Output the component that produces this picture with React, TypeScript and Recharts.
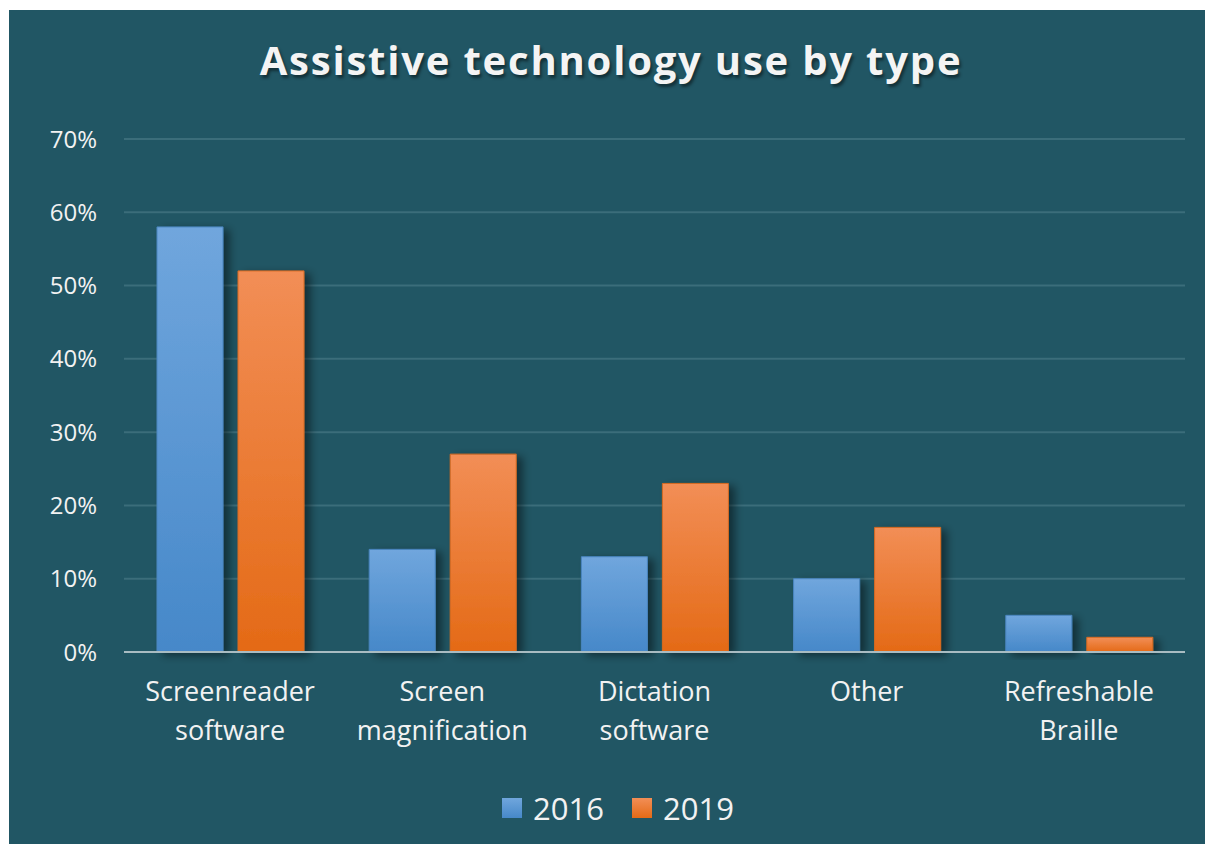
import { BarChart, Bar, XAxis, YAxis, CartesianGrid, Legend } from 'recharts'

const categories = [
  'Screenreader\nsoftware',
  'Screen\nmagnification',
  'Dictation\nsoftware',
  'Other',
  'Refreshable\nBraille',
]
const values2016 = [58, 14, 13, 10, 5]
const values2019 = [52, 27, 23, 17, 2]
const yTicks = [0, 10, 20, 30, 40, 50, 60, 70]

const data = categories.map((name, i) => ({
  name,
  y2016: values2016[i],
  y2019: values2019[i],
}))

const FONT = '"Open Sans", "Liberation Sans", sans-serif'
const BG = '#215664'

const CategoryTick = ({ x, y, payload }: any) => {
  const lines = String(payload.value).split('\n')
  return (
    <text x={x} y={y} textAnchor="middle" fill="#f2f2f2" fontSize={27} fontFamily={FONT}>
      {lines.map((l, i) => (
        <tspan key={i} x={x} dy={i === 0 ? 41 : 39}>
          {l}
        </tspan>
      ))}
    </text>
  )
}

const LegendContent = () => {
  const items = [
    { label: '2016', fill: 'url(#blueGrad)' },
    { label: '2019', fill: 'url(#orangeGrad)' },
  ]
  return (
    <div
      style={{
        display: 'flex',
        justifyContent: 'center',
        gap: 28,
        fontFamily: FONT,
        marginLeft: 42,
      }}
    >
      {items.map((it) => (
        <div key={it.label} style={{ display: 'flex', alignItems: 'center', gap: 11 }}>
          <svg width={20} height={20}>
            <rect x={0} y={0} width={20} height={20} fill={it.fill} />
          </svg>
          <span style={{ color: '#f2f2f2', fontSize: 31 }}>{it.label}</span>
        </div>
      ))}
    </div>
  )
}

export default function App() {
  return (
    <div
      style={{
        position: 'relative',
        left: 1,
        top: 2,
        width: 1204,
        height: 836,
        background: BG,
      }}
    >
      <div
        style={{
          position: 'absolute',
          top: 22,
          left: 0,
          width: 1204,
          textAlign: 'center',
          color: '#f4f4f4',
          fontFamily: FONT,
          fontWeight: 700,
          fontSize: 40,
          letterSpacing: 1.8,
          textShadow: '2px 3px 3px rgba(0,0,0,0.45)',
        }}
      >
        Assistive technology use by type
      </div>
      <BarChart
        width={1204}
        height={836}
        data={data}
        margin={{ top: 129, right: 28, bottom: 17, left: 0 }}
        barGap={15}
        barSize={66}
      >
        <defs>
          <linearGradient id="blueGrad" x1="0" y1="0" x2="0" y2="1">
            <stop offset="0%" stopColor="#70a6dd" />
            <stop offset="100%" stopColor="#4688c9" />
          </linearGradient>
          <linearGradient id="orangeGrad" x1="0" y1="0" x2="0" y2="1">
            <stop offset="0%" stopColor="#f28e56" />
            <stop offset="100%" stopColor="#e46a16" />
          </linearGradient>
          <filter id="barShadow" x="-20%" y="-10%" width="150%" height="130%">
            <feDropShadow dx={6} dy={3} stdDeviation={4} floodColor="#000" floodOpacity={0.45} />
          </filter>
        </defs>
        <CartesianGrid vertical={false} stroke="#3b6d7a" strokeWidth={2} />
        <XAxis
          dataKey="name"
          interval={0}
          height={135}
          tickLine={false}
          axisLine={{ stroke: '#a9bcc2', strokeWidth: 2 }}
          tick={<CategoryTick />}
        />
        <YAxis
          domain={[0, 70]}
          ticks={yTicks}
          width={115}
          tickSize={0}
          tickMargin={27}
          axisLine={false}
          tickLine={false}
          tickFormatter={(v) => `${v}%`}
          tick={{ fill: '#f2f2f2', fontSize: 24, fontFamily: FONT }}
        />
        <Legend verticalAlign="bottom" content={<LegendContent />} wrapperStyle={{ bottom: 17 }} />
        <Bar
          dataKey="y2016"
          name="2016"
          fill="url(#blueGrad)"
          stroke="#4a86c0"
          strokeWidth={1}
          filter="url(#barShadow)"
          isAnimationActive={false}
        />
        <Bar
          dataKey="y2019"
          name="2019"
          fill="url(#orangeGrad)"
          stroke="#d86a20"
          strokeWidth={1}
          filter="url(#barShadow)"
          isAnimationActive={false}
        />
      </BarChart>
    </div>
  )
}
